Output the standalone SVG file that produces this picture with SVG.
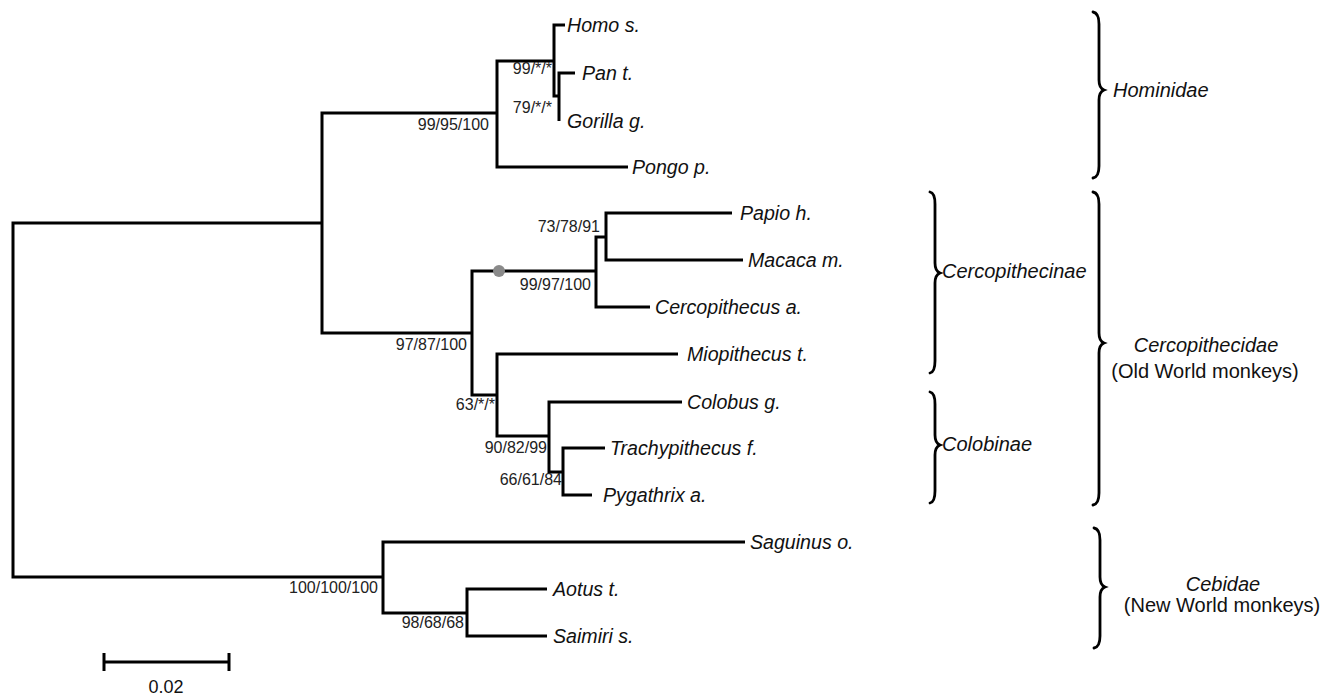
<svg xmlns="http://www.w3.org/2000/svg" width="1322" height="696" viewBox="0 0 1322 696">
<style>
.br{fill:none;stroke:#000;stroke-width:3;stroke-linejoin:miter;stroke-linecap:butt}
.brace{fill:none;stroke:#000;stroke-width:2.8;stroke-linecap:round}
.sp{font-family:"Liberation Sans",Arial,sans-serif;font-style:italic;font-size:19.6px;fill:#111}
.bs{font-family:"Liberation Sans",Arial,sans-serif;font-size:16px;fill:#222;text-anchor:end}
.grp{font-family:"Liberation Sans",Arial,sans-serif;font-size:20px;fill:#111}
.it{font-style:italic}
.mid{text-anchor:middle}
</style>
<rect width="1322" height="696" fill="#fff"/>
<g id="connectors">
<path class="br" d="M322 223 H13 V577 H383"/>
<path class="br" d="M497 113 H322 V333 H472"/>
<path class="br" d="M554 61 H497 V167 H628"/>
<path class="br" d="M565 25 H554 V96 H559"/>
<path class="br" d="M575 73 H559 V121"/>
<path class="br" d="M596 271 H472 V395 H497"/>
<path class="br" d="M606 237 H596 V307 H650"/>
<path class="br" d="M732 213 H606 V260 H743"/>
<path class="br" d="M678 354 H497 V436 H549"/>
<path class="br" d="M682 402 H549 V472 H563"/>
<path class="br" d="M605 448 H563 V495 H592"/>
<path class="br" d="M745 542 H383 V613 H467"/>
<path class="br" d="M547 589 H467 V636 H547"/>
</g>
<g id="marker-dot"><circle cx="499" cy="271" r="6" fill="#8a8a8a"/></g>
<g id="taxa">
<g id="homo"><text class="sp" x="567" y="32">Homo s.</text></g>
<g id="pan"><text class="sp" x="582" y="80">Pan t.</text></g>
<g id="gorilla"><text class="sp" x="567" y="128">Gorilla g.</text></g>
<g id="pongo"><text class="sp" x="632" y="174">Pongo p.</text></g>
<g id="papio"><text class="sp" x="740" y="220">Papio h.</text></g>
<g id="macaca"><text class="sp" x="748" y="267">Macaca m.</text></g>
<g id="cercopithecus"><text class="sp" x="655" y="314">Cercopithecus a.</text></g>
<g id="miopithecus"><text class="sp" x="687" y="361">Miopithecus t.</text></g>
<g id="colobus"><text class="sp" x="687" y="409">Colobus g.</text></g>
<g id="trachypithecus"><text class="sp" x="610" y="455">Trachypithecus f.</text></g>
<g id="pygathrix"><text class="sp" x="603" y="502">Pygathrix a.</text></g>
<g id="saguinus"><text class="sp" x="750" y="549">Saguinus o.</text></g>
<g id="aotus"><text class="sp" x="553" y="596">Aotus t.</text></g>
<g id="saimiri"><text class="sp" x="553" y="643">Saimiri s.</text></g>
</g>
<g id="support">
<g id="bs1"><text class="bs" x="489" y="130">99/95/100</text></g>
<g id="bs2"><text class="bs" x="552" y="74">99/*/*</text></g>
<g id="bs3"><text class="bs" x="552" y="113">79/*/*</text></g>
<g id="bs4"><text class="bs" x="600" y="232">73/78/91</text></g>
<g id="bs5"><text class="bs" x="591" y="290">99/97/100</text></g>
<g id="bs6"><text class="bs" x="467" y="350">97/87/100</text></g>
<g id="bs7"><text class="bs" x="495" y="410">63/*/*</text></g>
<g id="bs8"><text class="bs" x="547" y="453">90/82/99</text></g>
<g id="bs9"><text class="bs" x="562" y="485">66/61/84</text></g>
<g id="bs10"><text class="bs" x="378" y="593">100/100/100</text></g>
<g id="bs11"><text class="bs" x="464" y="628">98/68/68</text></g>
</g>
<g id="clade-hominidae">
<path class="brace" d="M1093 12 Q1099 13 1099 24 V80 Q1099 88 1104 90 Q1099 92 1099 100 V166 Q1099 177 1093 178"/>
<text class="grp it" x="1113" y="97">Hominidae</text>
</g>
<g id="clade-cercopithecinae">
<path class="brace" d="M930 192 Q935 193 935 204 V263 Q935 271 940 273 Q935 275 935 283 V361 Q935 372 930 373"/>
<text class="grp it" x="942" y="278">Cercopithecinae</text>
</g>
<g id="clade-colobinae">
<path class="brace" d="M930 392 Q935 393 935 404 V435 Q935 443 940 445 Q935 447 935 455 V491 Q935 502 930 503"/>
<text class="grp it" x="942" y="451">Colobinae</text>
</g>
<g id="clade-cercopithecidae">
<path class="brace" d="M1093 192 Q1099 193 1099 204 V333 Q1099 341 1104 343 Q1099 345 1099 353 V493 Q1099 504 1093 505"/>
<text class="grp it mid" x="1206" y="352">Cercopithecidae</text>
<text class="grp mid" x="1205" y="378">(Old World monkeys)</text>
</g>
<g id="clade-cebidae">
<path class="brace" d="M1094 528 Q1100 529 1100 540 V577 Q1100 585 1105 587 Q1100 589 1100 597 V636 Q1100 647 1094 648"/>
<text class="grp it mid" x="1223" y="591">Cebidae</text>
<text class="grp mid" x="1222" y="612">(New World monkeys)</text>
</g>
<g id="scale-bar">
<path class="br" d="M104 662 H229 M104 653 V671 M229 653 V671"/>
<text class="grp mid" x="166" y="693" style="font-size:18px">0.02</text>
</g>
</svg>
